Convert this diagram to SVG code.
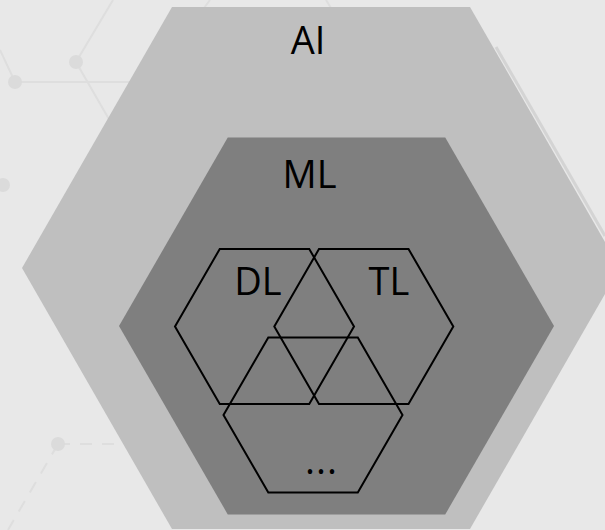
<svg xmlns="http://www.w3.org/2000/svg" width="605" height="530" viewBox="0 0 605 530">
<style>
.bgline{fill:none;stroke:#dedede;stroke-width:2}
.bgdash{fill:none;stroke:#dedede;stroke-width:2;stroke-dasharray:12 10}
.dot{fill:#dbdbdb}
.lbl{font-family:"Open Sans",Lato,"Liberation Sans",sans-serif;font-size:38px;fill:#000;text-anchor:middle}
.sub{fill:none;stroke:#000;stroke-width:2;stroke-linejoin:miter}
</style>
<rect width="605" height="530" fill="#e8e8e8"/>
<g id="background">
<path class="bgline" d="M0,50 L15,82 L135,82"/>
<path class="bgline" d="M113,0 L76,62 L110,121"/>
<path class="bgline" d="M210,0 L204,8"/>
<path class="bgline" d="M326,0 L331,8"/>
<path class="bgdash" d="M58,444 L125,444"/>
<path class="bgdash" d="M58,444 L8,530"/>
<circle class="dot" cx="15" cy="82" r="7"/>
<circle class="dot" cx="76" cy="62" r="7"/>
<circle class="dot" cx="3" cy="185" r="7"/>
<circle class="dot" cx="58" cy="444" r="7"/>
<path d="M496,47 L605,236" fill="none" stroke="#d4d4d4" stroke-width="3"/>
</g>
<g id="AI">
<polygon points="172,7 470,7 620,268 470,529 172,529 22,268" fill="#bfbfbf"/>
<text class="lbl" x="308" y="54">AI</text>
</g>
<g id="ML">
<polygon points="227.75,137.6 445.25,137.6 554,326 445.25,514.4 227.75,514.4 119,326" fill="#7f7f7f"/>
<text class="lbl" x="309.5" y="188">ML</text>
</g>
<g id="DL">
<polygon class="sub" points="219.75,249 309.25,249 354,326.5 309.25,404 219.75,404 175,326.5"/>
<text class="lbl" x="258" y="295">DL</text>
</g>
<g id="TL">
<polygon class="sub" points="319,249 408.5,249 453.3,326.5 408.5,404 319,404 274.3,326.5"/>
<text class="lbl" x="389" y="295">TL</text>
</g>
<g id="other">
<polygon class="sub" points="268.3,337.5 357.8,337.5 402.5,415 357.8,492.5 268.3,492.5 223.5,415"/>
<text class="lbl" x="321.5" y="474" letter-spacing="1">...</text>
</g>
<g id="connectors"/>
</svg>
